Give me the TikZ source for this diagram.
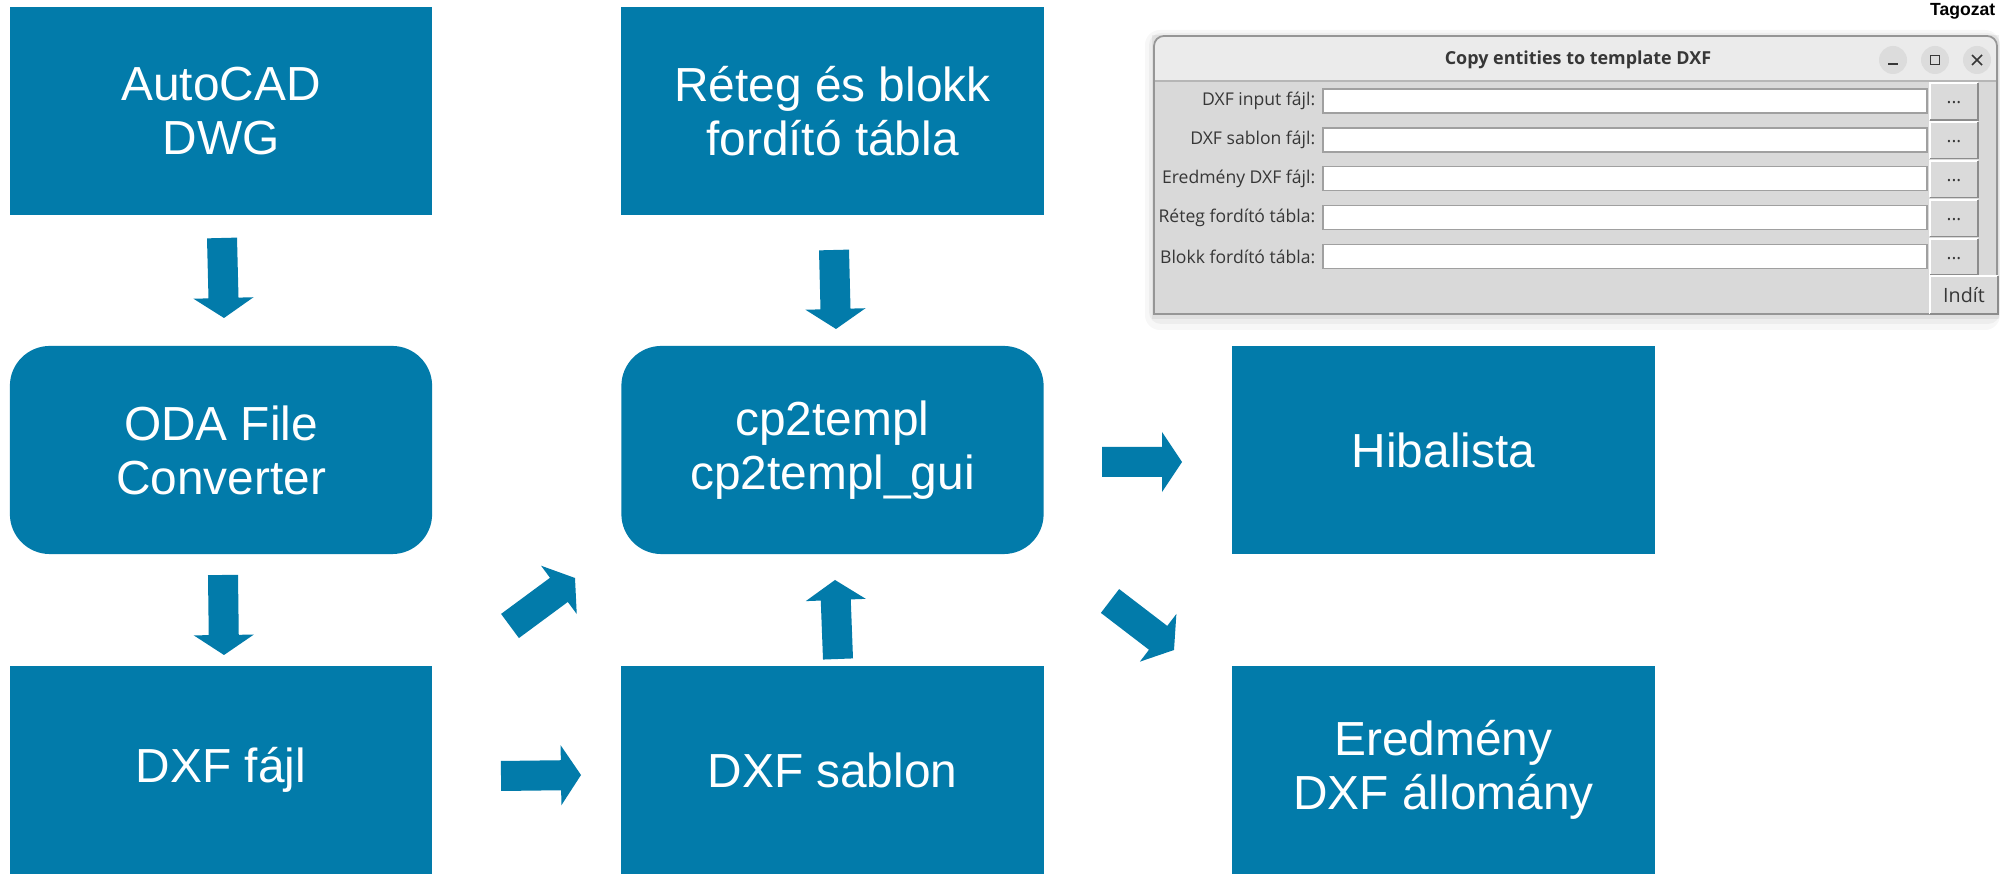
\documentclass[tikz,border=0pt]{standalone}
\usepackage{fontspec}
\setmainfont{Liberation Sans}
\newfontfamily\guifont{Open Sans}
\usetikzlibrary{calc}
\definecolor{boxblue}{RGB}{2,123,170}
\definecolor{titlebar}{RGB}{235,235,235}
\definecolor{winbody}{RGB}{217,217,217}
\definecolor{winborder}{RGB}{150,150,150}
\definecolor{guitext}{RGB}{55,55,55}
\definecolor{circgray}{RGB}{220,220,220}
\definecolor{entryedge}{RGB}{160,160,160}
\definecolor{btnfill}{RGB}{218,218,218}
\definecolor{btndark}{RGB}{140,140,140}

\tikzset{
  flowbox/.style={fill=boxblue, draw=none, text=white, minimum width=4.22cm, minimum height=2.08cm,
    align=center, inner sep=0pt, font=\fontsize{13.6pt}{15.4pt}\selectfont},
  roundbox/.style={flowbox, rounded corners=0.4cm},
  blockarr/.style={fill=boxblue},
  guilabel/.style={font=\guifont\fontsize{5.0pt}{6pt}\selectfont, text=guitext, anchor=east, inner sep=0pt},
  entry/.style={fill=white, draw=entryedge, line width=0.4pt, minimum width=6.04cm, minimum height=0.24cm, inner sep=0pt},
  guibtn/.style={fill=btnfill, draw=none, minimum width=0.46cm, minimum height=0.35cm, inner sep=0pt,
    font=\guifont\fontsize{5.2pt}{6pt}\selectfont, text=guitext},
  winbtn/.style={circle, fill=circgray, minimum size=0.28cm, inner sep=0pt},
  glyph/.style={draw=guitext, line width=0.45pt},
}

\newcommand{\blockarrow}[2]{%
  \path ($(#2)!0.2cm!(#1)$) coordinate (ahb);
  \fill[blockarr] ($(#1)!0.15cm!90:(#2)$) -- ($(ahb)!0.15cm!90:(#2)$) -- ($(ahb)!0.3cm!90:(#2)$)
    -- (#2) -- ($(ahb)!0.3cm!-90:(#2)$) -- ($(ahb)!0.15cm!-90:(#2)$) -- ($(#1)!0.15cm!-90:(#2)$) -- cycle;}

\newcommand{\btnedges}[1]{%
  \draw[white, line width=0.5pt] (#1.south west) -- (#1.north west) -- (#1.north east);
  \draw[btndark, line width=0.5pt] (#1.north east) -- (#1.south east) -- (#1.south west);}

\begin{document}
\begin{tikzpicture}[x=0.01cm, y=-0.01cm]
\useasboundingbox (0,0) rectangle (2000,874);
\fill[white] (0,0) rectangle (2000,874);

% ---------- flow boxes ----------
\node[flowbox]  (dwg)      at (221,111)    {AutoCAD\\DWG};
\node[flowbox]  (forditas) at (832.5,111)  {Réteg és blokk\\fordító tábla};
\node[roundbox] (oda)      at (221,450)    {ODA File\\Converter};
\node[roundbox] (cp2)      at (832.5,450)  {cp2templ\\cp2templ\_gui};
\node[flowbox]  (hiba)     at (1443.5,450) {Hibalista};
\node[flowbox]  (dxf)      at (221,770)    {DXF fájl};
\node[flowbox]  (sablon)   at (832.5,770)  {DXF sablon};
\node[flowbox]  (ered)     at (1443.5,770) {Eredmény\\DXF állomány};

% ---------- block arrows ----------
\coordinate (a1s) at (222,238);  \coordinate (a1e) at (224,318);
\coordinate (a2s) at (223,575);  \coordinate (a2e) at (224,655);
\coordinate (a3s) at (834,250);  \coordinate (a3e) at (836,329);
\coordinate (a4s) at (838,659);  \coordinate (a4e) at (835,580);
\coordinate (a5s) at (501,776);  \coordinate (a5e) at (581,775);
\coordinate (a6s) at (510,626);  \coordinate (a6e) at (575,578);
\coordinate (a7s) at (1102,462); \coordinate (a7e) at (1182,462);
\coordinate (a8s) at (1110,601); \coordinate (a8e) at (1174,650);
\blockarrow{a1s}{a1e}
\blockarrow{a2s}{a2e}
\blockarrow{a3s}{a3e}
\blockarrow{a4s}{a4e}
\blockarrow{a5s}{a5e}
\blockarrow{a6s}{a6e}
\blockarrow{a7s}{a7e}
\blockarrow{a8s}{a8e}

% ---------- screenshot of the window ----------
\node[font=\bfseries\fontsize{5pt}{6pt}\selectfont, anchor=east, inner sep=0pt] (tag) at (1996,11) {Tagozat};

\fill[black, opacity=0.03, rounded corners=0.15cm] (1145,30) rectangle (2000,330);
\fill[black, opacity=0.04, rounded corners=0.12cm] (1149,33) rectangle (2000,324);
\fill[black, opacity=0.05] (1152,35) rectangle (1999,319);
\fill[titlebar, rounded corners=0.1cm] (1154,95) -- (1154,36) -- (1997,36) -- (1997,95) -- cycle;
\fill[winbody] (1154,81) rectangle (1997,314);
\draw[winborder!70, line width=0.4pt] (1154,81) -- (1997,81);
\draw[winborder, line width=0.5pt, rounded corners=0.1cm] (1154,200) -- (1154,36) -- (1997,36) -- (1997,200);
\draw[winborder, line width=0.5pt] (1154,200) -- (1154,314) -- (1997,314) -- (1997,200);

\node[font=\guifont\bfseries\fontsize{5.1pt}{6pt}\selectfont, text=guitext, inner sep=0pt] (title) at (1578,60) {Copy entities to template DXF};

\node[winbtn] (minb) at (1893,60) {};
\node[winbtn] (maxb) at (1935,60) {};
\node[winbtn] (clsb) at (1977,60) {};
\draw[glyph] ($(minb)+(-5,4)$) -- ($(minb)+(5,4)$);
\draw[glyph] ($(maxb)+(-4.5,-4.5)$) rectangle ($(maxb)+(4.5,4.5)$);
\draw[glyph] ($(clsb)+(-5,-5)$) -- ($(clsb)+(5,5)$);
\draw[glyph] ($(clsb)+(-5,5)$) -- ($(clsb)+(5,-5)$);

% rows
\node[guilabel] (l1) at (1316,101)   {DXF input fájl:};
\node[guilabel] (l2) at (1316,139.9) {DXF sablon fájl:};
\node[guilabel] (l3) at (1316,178.8) {Eredmény DXF fájl:};
\node[guilabel] (l4) at (1316,217.7) {Réteg fordító tábla:};
\node[guilabel] (l5) at (1316,256.6) {Blokk fordító tábla:};

\node[entry] (f1) at (1625,101)   {};
\node[entry] (f2) at (1625,139.9) {};
\node[entry] (f3) at (1625,178.8) {};
\node[entry] (f4) at (1625,217.7) {};
\node[entry] (f5) at (1625,256.6) {};

\node[guibtn] (b1) at (1954,101.5) {\raisebox{-1.2pt}{...}};
\node[guibtn] (b2) at (1954,140.4) {\raisebox{-1.2pt}{...}};
\node[guibtn] (b3) at (1954,179.3) {\raisebox{-1.2pt}{...}};
\node[guibtn] (b4) at (1954,218.2) {\raisebox{-1.2pt}{...}};
\node[guibtn] (b5) at (1954,257.1) {\raisebox{-1.2pt}{...}};
\node[guibtn, minimum width=0.66cm, minimum height=0.36cm, font=\guifont\fontsize{5.6pt}{6pt}\selectfont] (ind) at (1964,295) {Indít};
\btnedges{b1}
\btnedges{b2}
\btnedges{b3}
\btnedges{b4}
\btnedges{b5}
\btnedges{ind}
\end{tikzpicture}
\end{document}
